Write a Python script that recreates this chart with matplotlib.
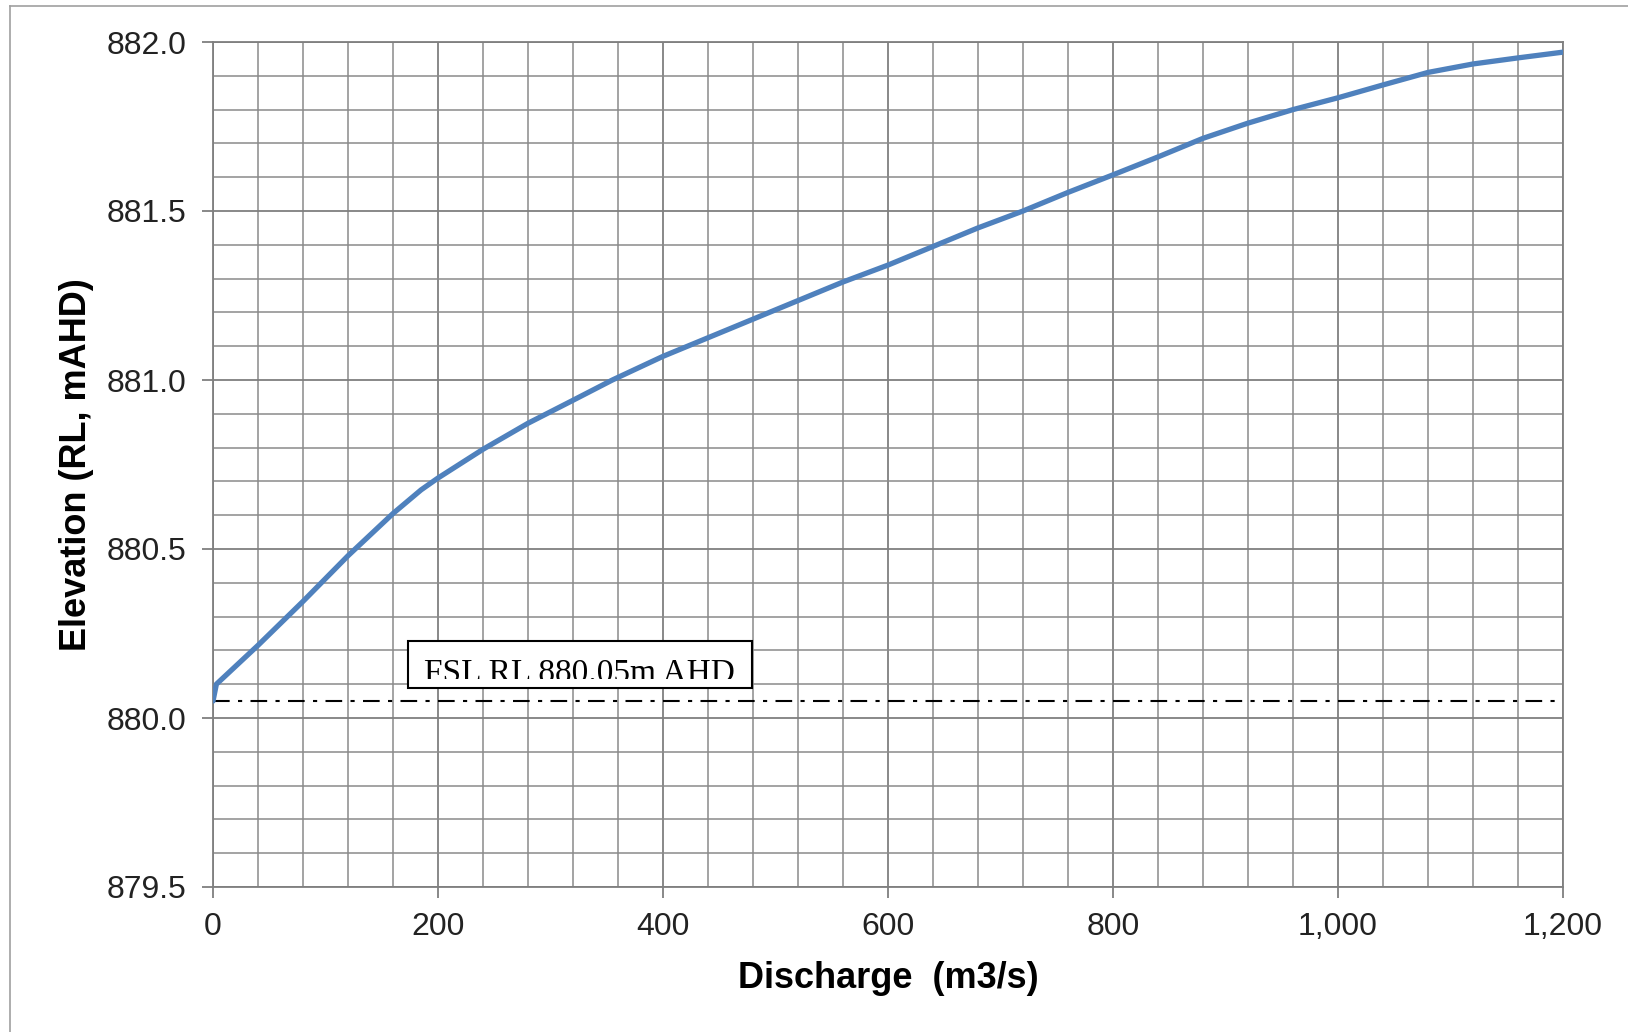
import matplotlib
matplotlib.use("Agg")
import matplotlib.pyplot as plt
from matplotlib.ticker import MultipleLocator, FuncFormatter
from matplotlib.patches import Rectangle
from matplotlib.lines import Line2D
from matplotlib.transforms import Bbox, TransformedBbox

# ---- data ----
discharge = [0, 3, 40, 80, 120, 160, 185, 200, 240, 280, 320, 355, 400, 440,
             480, 520, 560, 600, 640, 680, 720, 760, 800, 840, 880, 920, 960,
             1000, 1040, 1080, 1120, 1160, 1200]
elevation = [880.05, 880.10, 880.215, 880.345, 880.48, 880.605, 880.675, 880.71,
             880.795, 880.872, 880.94, 881.0, 881.07, 881.125, 881.18, 881.235,
             881.29, 881.34, 881.395, 881.45, 881.50, 881.555, 881.607, 881.66,
             881.715, 881.76, 881.80, 881.835, 881.873, 881.91, 881.935, 881.953,
             881.97]
fsl_level = 880.05
fsl_label = "FSL RL 880.05m AHD"
x_label = "Discharge  (m3/s)"
y_label = "Elevation (RL, mAHD)"

W, H = 1628, 1032
fig = plt.figure(figsize=(W / 100, H / 100), dpi=100)
fig.patch.set_facecolor("white")

# chart area border (Excel-like)
fig.add_artist(Line2D([10 / W, 10 / W], [0, 1 - 6 / H], transform=fig.transFigure,
                      color="#a0a0a0", lw=1.2))
fig.add_artist(Line2D([10 / W, 1], [1 - 6 / H, 1 - 6 / H], transform=fig.transFigure,
                      color="#a0a0a0", lw=1.2))

ax = fig.add_axes([213 / W, (H - 887) / H, 1350 / W, 845 / H])

ax.set_xlim(0, 1200)
ax.set_ylim(879.5, 882.0)
ax.xaxis.set_major_locator(MultipleLocator(200))
ax.xaxis.set_minor_locator(MultipleLocator(40))
ax.yaxis.set_major_locator(MultipleLocator(0.5))
ax.yaxis.set_minor_locator(MultipleLocator(0.1))
ax.grid(which="major", color="#7f7f7f", lw=1.3)
ax.grid(which="minor", color="#8a8a8a", lw=1.1)
ax.set_axisbelow(True)
for s in ax.spines.values():
    s.set_color("#7f7f7f")
    s.set_linewidth(1.3)

ax.xaxis.set_major_formatter(FuncFormatter(lambda v, p: f"{v:,.0f}"))
ax.yaxis.set_major_formatter(FuncFormatter(lambda v, p: f"{v:.1f}"))
ax.tick_params(which="major", length=8, width=1.3, color="#7f7f7f",
               labelsize=23, labelcolor="#222222")
ax.tick_params(axis="x", which="major", pad=10)
ax.tick_params(axis="y", which="major", pad=11)
ax.tick_params(which="minor", length=0)
for lbl in ax.get_xticklabels() + ax.get_yticklabels():
    lbl.set_fontfamily("Liberation Sans")

ax.set_xlabel(x_label, fontsize=26, fontweight="bold", fontfamily="Liberation Sans",
              labelpad=14)
ax.set_ylabel(y_label, fontsize=26, fontweight="bold", fontfamily="Liberation Sans",
              labelpad=9)

# FSL line
ax.axhline(fsl_level, color="black", lw=1.5, ls=(0, (8, 4, 2, 4)), zorder=3)

# rating curve
ax.plot(discharge, elevation, color="#4F81BD", lw=3.8, solid_capstyle="round",
        solid_joinstyle="round", zorder=4)

# annotation box with clipped text
box = Rectangle((173, 880.089), 306, 0.139, fill=True, facecolor="white",
                edgecolor="black", lw=1.5, zorder=5)
ax.add_patch(box)
t = ax.text(326, 880.106, fsl_label, ha="center", va="baseline", fontsize=24,
            fontfamily="Liberation Serif", color="black", zorder=6)
t.set_clip_on(True)
t.set_clip_box(TransformedBbox(Bbox([[173, 880.116], [479, 880.228]]), ax.transData))

fig.savefig("out.png", dpi=100, facecolor="white")
